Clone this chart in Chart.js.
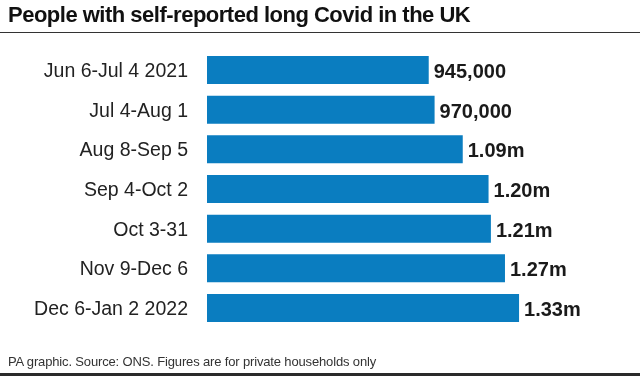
<!DOCTYPE html>
<html>
<head>
<meta charset="utf-8">
<script src="https://cdn.jsdelivr.net/npm/chart.js@4"></script>
<style>
  html, body { margin: 0; padding: 0; background: #fff; }
  #wrap { position: relative; width: 640px; height: 376px; overflow: hidden; font-family: 'Liberation Sans', Arial, sans-serif; }
  #title { position: absolute; left: 8px; top: 4px; font-size: 22px; line-height: 22px; font-weight: bold; letter-spacing: -0.5px; color: #111; white-space: nowrap; }
  #rule { position: absolute; left: 0; top: 32px; width: 640px; height: 1px; background: #333; }
  #footer { position: absolute; left: 8px; top: 355px; font-size: 13px; line-height: 13px; letter-spacing: -0.15px; color: #333; white-space: nowrap; }
  #bottomBar { position: absolute; left: 0; top: 373px; width: 640px; height: 3px; background: #2a2a2a; }
  canvas { position: absolute; left: 0; top: 0; }
</style>
</head>
<body>
<div id="wrap">
  <canvas id="chart" width="640" height="376"></canvas>
  <div id="title">People with self-reported long Covid in the UK</div>
  <div id="rule"></div>
  <div id="footer">PA graphic. Source: ONS. Figures are for private households only</div>
  <div id="bottomBar"></div>
</div>
<script>
// Survey periods and estimated people with long Covid
const periods = ['Jun 6-Jul 4 2021', 'Jul 4-Aug 1', 'Aug 8-Sep 5', 'Sep 4-Oct 2', 'Oct 3-31', 'Nov 9-Dec 6', 'Dec 6-Jan 2 2022'];
const people = [945000, 970000, 1090000, 1200000, 1210000, 1270000, 1330000];
const valueLabels = ['945,000', '970,000', '1.09m', '1.20m', '1.21m', '1.27m', '1.33m'];

// Draw value labels at the end of each bar
const barLabels = {
    id: 'barLabels',
    afterDatasetsDraw(chart) {
        const ctx = chart.ctx;
        const meta = chart.getDatasetMeta(0);
        ctx.save();
        ctx.font = 'bold 20px "Liberation Sans", Arial, sans-serif';
        ctx.fillStyle = '#1a1a1a';
        ctx.textAlign = 'left';
        ctx.textBaseline = 'alphabetic';
        meta.data.forEach((bar, i) => {
            ctx.fillText(valueLabels[i], bar.x + 5, bar.y + 8);
        });
        ctx.restore();
    }
};

new Chart(document.getElementById('chart'), {
    type: 'bar',
    data: {
        labels: periods,
        datasets: [{
            data: people,
            backgroundColor: '#0a7dc0',
            borderWidth: 0,
            categoryPercentage: 1,
            barPercentage: 0.706
        }]
    },
    options: {
        indexAxis: 'y',
        responsive: false,
        animation: false,
        layout: { padding: { top: 50.2, bottom: 48.2, left: 0, right: 22.4 } },
        plugins: { legend: { display: false }, tooltip: { enabled: false } },
        scales: {
            x: { display: false, min: 0, max: 1750000 },
            y: {
                grid: { display: false, drawTicks: false },
                border: { display: false },
                ticks: {
                    padding: 19,
                    labelOffset: 1.5,
                    color: '#222',
                    font: { family: '"Liberation Sans", Arial, sans-serif', size: 19.5 }
                },
                afterFit(scale) { scale.width = 207; }
            }
        }
    },
    plugins: [barLabels]
});
</script>
</body>
</html>
